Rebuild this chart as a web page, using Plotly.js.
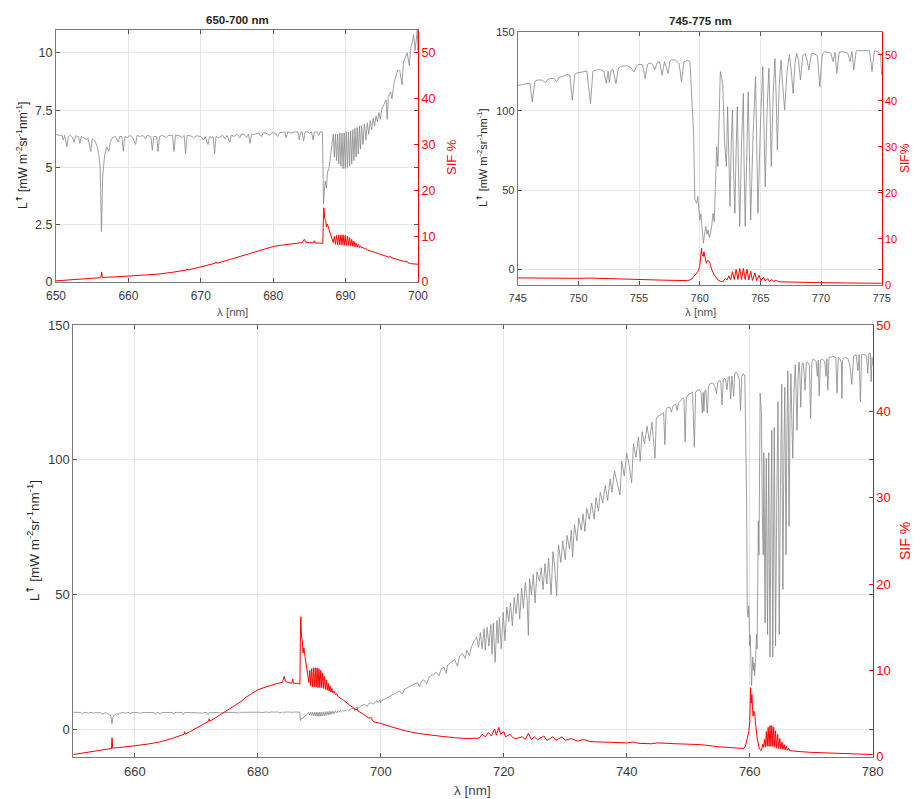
<!DOCTYPE html>
<html><head><meta charset="utf-8">
<script src="https://cdn.plot.ly/plotly-3.0.1.min.js"></script>
<style>html,body{margin:0;padding:0;background:#fff}#chart{width:914px;height:799px}</style>
</head><body><div id="chart"></div>
<script>
// Upwelling radiance L (mW m-2 sr-1 nm-1), [wavelength nm, value]
const radA = [[650,6.45],[650.4,6.4],[650.8,6.42],[651.0,6.2],[651.2,6.4],[651.5,5.9],[651.7,6.35],[652.0,6.4],[652.3,6.3],[652.5,6.1],[652.7,6.38],[653.1,6.35],[653.3,6.05],[653.5,6.35],[653.9,6.3],[654.2,6.2],[654.4,6.3],[654.8,5.7],[655.0,6.25],[655.4,6.15],[655.7,5.9],[655.9,5.6],[656.1,5.0],[656.28,2.2],[656.45,4.6],[656.7,5.5],[657.0,5.9],[657.3,5.7],[657.5,6.1],[657.8,6.3],[658.2,6.35],[658.6,6.1],[658.8,6.35],[659.1,6.35],[659.3,5.7],[659.5,6.35],[659.9,6.3],[660.2,6.4],[660.6,6.3],[661.0,6.0],[661.2,6.4],[661.6,6.35],[662.0,6.4],[662.4,6.25],[662.6,6.4],[663.1,6.35],[663.3,5.75],[663.5,6.35],[663.9,6.35],[664.1,5.7],[664.3,6.35],[664.7,6.4],[665.2,6.3],[665.5,6.4],[666.1,6.4],[666.3,5.7],[666.5,6.4],[667.0,6.4],[667.4,6.3],[667.7,6.4],[667.9,5.6],[668.1,6.4],[668.6,6.38],[669.0,6.3],[669.4,6.38],[670.0,6.35],[670.4,6.2],[670.6,6.35],[671.0,6.0],[671.2,6.35],[671.5,6.3],[671.7,6.35],[671.9,5.6],[672.1,6.35],[672.5,6.3],[673.0,6.4],[673.4,6.25],[673.6,6.4],[674.0,6.1],[674.2,6.4],[674.6,6.35],[675.0,6.45],[675.4,6.3],[675.6,6.45],[676.0,6.45],[676.3,6.3],[676.6,6.45],[676.8,6.05],[677.0,6.45],[677.5,6.45],[678.0,6.5],[678.4,6.35],[678.6,6.5],[679.0,6.5],[679.5,6.4],[679.8,6.52],[680.3,6.5],[680.6,6.35],[680.9,6.52],[681.3,6.55],[681.6,6.55],[681.8,6.3],[682.0,6.55],[682.5,6.5],[683.0,6.55],[683.4,6.55],[683.6,6.2],[683.8,6.55],[684.0,6.55],[684.2,6.15],[684.4,6.55],[684.8,6.55],[685.0,6.5],[685.3,6.55],[685.5,6.2],[685.7,6.55],[686.0,6.55],[686.3,6.4],[686.5,6.55],[686.8,6.55],[686.95,3.4],[687.05,3.9],[687.2,4.4],[687.35,4.1],[687.5,4.8],[687.7,4.95],[687.9,5.4],[688.1,6.0],[688.3,6.45],
[688.45,5.45],[688.6,6.45],[688.75,5.3],[688.9,6.45],[689.05,5.15],[689.2,6.5],[689.35,5.05],[689.5,6.5],[689.65,4.95],[689.8,6.5],[689.95,4.95],[690.1,6.55],[690.25,5.0],[690.4,6.55],[690.55,5.05],[690.7,6.6],[690.85,5.15],[691.0,6.65],[691.15,5.3],[691.3,6.7],[691.45,5.45],[691.6,6.75],[691.75,5.6],[691.9,6.8],[692.05,5.8],[692.2,6.85],[692.4,6.0],[692.6,6.9],[692.8,6.2],[693.0,6.95],[693.2,6.45],[693.4,7.05],[693.6,6.65],[693.8,7.15],[694.0,6.8],[694.2,7.25],[694.4,7.0],[694.6,7.4],[694.8,7.1],[695.0,7.55],[695.3,7.75],[695.6,7.95],[695.75,7.1],[695.9,8.1],[696.2,8.3],[696.4,8.0],[696.7,8.7],[697.0,9.1],[697.2,9.25],[697.5,9.2],[697.8,8.6],[698.0,9.6],[698.3,9.9],[698.5,10.0],[698.8,9.45],[699.0,10.2],[699.2,10.45],[699.4,10.8],[699.6,10.1],[699.8,10.9],[699.9,11.0],[700.0,10.1]];
const radB = [[700.2,10.9],[700.8,11.5],[701.5,12.4],[702.0,13.0],[702.5,13.6],[703.0,14.3],[703.5,13.3],[703.8,14.8],[704.5,15.8],[705.0,16.5],[705.5,17.0],[706.0,17.4],[706.3,16.0],[706.6,17.8],[707.0,18.5],[707.5,17.0],[707.8,19.4],[708.5,20.5],[709.0,21.3],[709.5,20.0],[709.8,22.4],[710.3,23.2],[710.6,21.0],[710.9,24.0],[711.5,25.2],[712.0,26.0],[712.5,23.5],[712.8,27.2],[713.3,28.2],[713.7,26.5],[714.0,29.5],[714.4,27.5],[714.8,31.0],[715.2,33.0],[715.6,34.3],[715.9,30.5],[716.2,36.0],[716.5,30.0],[716.8,37.5],[717.0,29.5],[717.3,38.0],[717.6,31.0],[717.9,39.0],[718.1,28.0],[718.3,39.5],[718.6,25.0],[718.9,40.5],[719.1,32.0],[719.3,41.5],[719.6,30.0],[719.9,43.5],[720.2,33.0],[720.5,45.5],[720.8,40.0],[721.1,47.0],[721.4,38.5],[721.7,49.0],[722.0,43.0],[722.3,50.5],[722.6,41.0],[722.9,52.5],[723.2,45.0],[723.5,54.5],[723.8,48.0],[724.0,35.0],[724.2,56.0],[724.5,50.0],[724.8,57.5],[725.1,47.0],[725.4,58.5],[725.8,55.0],[726.1,60.0],[726.4,52.0],[726.7,61.5],[727.0,54.0],[727.3,63.5],[727.7,50.0],[728.0,66.0],[728.3,60.0],[728.6,49.5],[728.9,68.5],[729.3,62.0],[729.6,70.0],[730.0,63.0],[730.3,72.0],[730.7,67.0],[731.0,74.0],[731.2,64.0],[731.5,76.0],[731.9,70.0],[732.2,78.5],[732.6,74.0],[732.9,80.0],[733.2,73.5],[733.5,82.0],[733.9,78.0],[734.3,84.0],[734.7,78.0],[735.0,86.0],[735.4,81.0],[735.7,88.0],[736.1,84.0],[736.5,90.5],[736.9,85.0],[737.3,93.0],[737.6,88.0],[738.0,96.0],[738.4,92.0],[738.9,87.0],[739.2,99.5],[739.6,94.0],[740.0,102.5],[740.4,98.0],[740.8,91.5],[741.1,106.0],[741.5,101.0],[741.9,108.5],[742.2,99.5],[742.5,110.5],[742.9,106.0],[743.3,112.5],[743.7,107.0],[744.1,114.0],[744.6,100.6],[744.8,115.0]];
const radC = [[745.0,116],[745.6,117],[746.0,117.5],[746.2,105.7],[746.4,118.5],[746.6,119.4],[747.0,119.5],[747.3,117.7],[747.5,120],[747.7,120.4],[748.0,120.5],[748.2,118.3],[748.4,121],[748.8,122],[749.1,123],[749.3,122.5],[749.5,106.7],[749.7,123],[749.9,124],[750.3,124.5],[750.7,125.2],[751.0,104.7],[751.2,125],[751.4,125.7],[751.8,126],[752.1,125],[752.3,117.3],[752.45,125],[752.55,118],[752.7,125.5],[752.85,126],[753.1,117.3],[753.3,127],[753.5,128.2],[754.0,128.5],[754.3,127.5],[754.6,124.6],[754.8,128.5],[755.0,129.4],[755.3,129],[755.5,120.4],[755.7,129.5],[755.9,130.3],[756.1,129.5],[756.3,126],[756.5,130.5],[756.7,131],[756.9,122.5],[757.1,131],[757.4,123.6],[757.55,131.5],[757.7,132.4],[758.0,132],[758.3,130],[758.5,118.3],[758.7,131],[759.0,132],[759.2,131],[759.35,110],[759.5,85],[759.6,44],[759.75,41.7],[759.85,46],[760.0,31],[760.1,35],[760.2,24.8],[760.3,16.4],[760.4,22],[760.5,27],[760.6,22],[760.7,24.8],[760.8,20],[760.9,22.7],[761.0,28],[761.1,35.3],[761.2,30],[761.3,52],[761.4,77.4],[761.5,64.8],[761.6,100],[761.7,124.8],[761.8,121],[761.9,117.4],[762.05,80],[762.2,64.8],[762.3,102.7],[762.4,70],[762.5,39.6],[762.6,80],[762.7,100.6],[762.8,60],[762.9,35.3],[763.0,75],[763.1,102.7],[763.2,60],[763.3,27],[763.45,80],[763.6,111],[763.65,70],[763.75,27],[763.9,80],[764.0,112],[764.1,70],[764.2,31],[764.4,85],[764.6,121.6],[764.7,80],[764.8,35.3],[765.0,90],[765.2,128],[765.3,90],[765.4,52],[765.55,100],[765.7,126.9],[765.8,100],[765.9,64.8],[766.05,110],[766.2,133],[766.3,110],[766.4,75.3],[766.55,115],[766.7,132],[766.85,115],[767.0,100.6],[767.2,125],[767.4,135.3],[767.55,125],[767.7,111],[767.85,130],[768.0,136.3],[768.15,132],[768.3,119.5],[768.5,135],[768.7,136],[768.85,132],[769.0,125.8],[769.2,136],[769.4,136.3],[769.7,135],[769.9,115.3],[770.1,136],[770.3,137.4],[770.8,136.5],[771.0,131],[771.15,137],[771.3,123.7],[771.5,137],[771.8,137.4],[772.2,136.5],[772.4,131],[772.55,137.5],[772.7,125.8],[772.9,138],[773.2,138],[773.5,138.4],[774.0,138],[774.2,124.8],[774.4,138],[774.7,137.4],[774.9,136],[775.0,122.7],[775.1,137],[775.5,138],[776.0,137.5],[776.3,135],[776.6,128],[776.9,138.5],[777.3,139],[777.6,133],[777.8,139],[778.0,121.6],[778.2,139],[778.6,139.2],[779.0,138.5],[779.2,132],[779.4,139.5],[779.6,139.5],[779.75,129],[779.9,138],[780.0,135]];

// SIF (% of radiance), [wavelength nm, value]
const sifA = [[650,0.25],[652,0.5],[654,0.7],[655.5,0.85],[656.2,0.95],[656.3,2.2],[656.4,1.0],[658,1.1],[660,1.25],[662,1.45],[664,1.7],[666,2.1],[668,2.6],[668.1,2.9],[668.2,2.6],[670,3.3],[672,4.1],[672.1,4.4],[672.2,4.1],[674,4.9],[676,5.8],[677.5,6.5],[678,6.85],[679,7.3],[680,7.75],[681,8.0],[682,8.25],[683,8.45],[684,8.6],[684.3,9.3],[684.5,8.7],[685,8.6],[685.5,8.5],[685.7,9.0],[685.8,8.5],[686.5,8.5],[686.85,8.4],[686.95,15.0],[687.0,16.2],[687.1,14.0],[687.25,13.4],[687.35,12.0],[687.5,12.6],[687.7,11.5],[687.9,10.5],[688.1,9.8],[688.3,8.6],[688.45,10.0],[688.6,8.2],[688.75,10.2],[688.9,8.1],[689.05,10.3],[689.2,8.1],[689.35,10.3],[689.5,8.1],[689.65,10.3],[689.8,8.0],[689.95,10.2],[690.1,8.0],[690.25,10.0],[690.4,8.0],[690.55,9.7],[690.7,7.9],[690.85,9.3],[691.0,7.8],[691.15,8.9],[691.3,7.7],[691.45,8.5],[691.6,7.6],[691.75,8.2],[691.9,7.5],[692.05,7.9],[692.2,7.4],[692.4,7.6],[692.6,7.2],[692.8,7.3],[693,7.0],[694,6.5],[695,5.9],[696,5.4],[696.2,5.6],[696.3,5.3],[697,5.0],[698,4.5],[698.5,4.5],[698.6,4.2],[699,4.0],[700,3.85]];
const sifB = [[702,3.4],[704,3.0],[706,2.7],[708,2.5],[710,2.35],[712,2.2],[714,2.1],[716,2.15],[716.5,2.6],[717,2.3],[717.5,2.8],[718,2.4],[718.5,3.2],[718.8,2.5],[719.2,3.4],[719.5,2.6],[720,2.9],[720.3,2.3],[721,2.6],[721.5,2.2],[722,2.1],[723,2.3],[723.5,2.0],[724,2.7],[724.5,2.0],[725,2.3],[725.5,1.95],[726.5,2.4],[727,1.9],[728,2.3],[728.5,1.9],[729.5,2.3],[730,1.9],[731,2.1],[732,1.8],[733,2.0],[734,1.75],[736,1.7],[738,1.65],[740,1.6],[741,1.7],[742,1.55],[744,1.5]];
const sifC = [[745,1.6],[748,1.5],[750,1.45],[751,1.5],[752,1.4],[755,1.15],[757,1.05],[759,0.95],[759.3,1.2],[759.5,1.8],[759.7,2.5],[759.85,2.9],[760.0,4.0],[760.1,6.5],[760.15,8.0],[760.2,6.5],[760.3,6.2],[760.35,7.2],[760.45,5.8],[760.55,4.7],[760.65,5.3],[760.8,5.1],[760.9,4.2],[761.0,3.3],[761.2,2.2],[761.35,1.7],[761.5,1.1],[761.7,0.8],[761.85,0.7],[762.0,1.0],[762.1,1.45],[762.25,1.1],[762.4,2.0],[762.55,1.1],[762.7,2.9],[762.85,1.2],[763.0,3.4],[763.15,1.2],[763.3,3.6],[763.45,1.2],[763.6,3.6],[763.75,1.2],[763.9,3.4],[764.05,1.1],[764.2,3.0],[764.35,1.0],[764.55,2.6],[764.7,0.95],[764.9,2.1],[765.05,0.9],[765.25,1.7],[765.4,0.85],[765.6,1.4],[765.75,0.8],[765.95,1.2],[766.1,0.75],[766.3,1.0],[766.5,0.7],[767,0.65],[768,0.6],[770,0.5],[772,0.45],[775,0.38],[778,0.3],[780,0.25]];

const yTicksTL = [0, 2.5, 5, 7.5, 10];
const yTickTextTL = ['0', '2.5', '5', '7.5', '10'];
const panelTitles = ['650-700 nm', '745-775 nm'];
const yTitleL = 'L<sup><span style="font-family:DejaVu Sans;font-weight:bold">↑</span></sup> [mW m<sup>-2</sup>sr<sup>-1</sup>nm<sup>-1</sup>]';

const rad = radA.concat(radB, radC);
const sif = sifA.concat(sifB, sifC);
const rx = rad.map(p => p[0]), ry = rad.map(p => p[1]);
const sx = sif.map(p => p[0]), sy = sif.map(p => p[1]);

const FONT = 'Liberation Sans, Arial, Helvetica, sans-serif';
const GRAY = 'rgb(135,135,135)';
const RED = '#ff0000';
const W = 914, H = 799;
const px = v => v / W, py = v => 1 - v / H;

function radTrace(xa, ya) { return {x: rx, y: ry, xaxis: xa, yaxis: ya, type: 'scatter', mode: 'lines', line: {color: GRAY, width: 0.8}, hoverinfo: 'skip'}; }
function sifTrace(xa, ya) { return {x: sx, y: sy, xaxis: xa, yaxis: ya, type: 'scatter', mode: 'lines', line: {color: RED, width: 1}, hoverinfo: 'skip'}; }

const data = [radTrace('x','y'), sifTrace('x','y2'), radTrace('x2','y3'), sifTrace('x2','y4'), radTrace('x3','y5'), sifTrace('x3','y6')];

function xAx(dom, anchor, range, dtick, fs) {
  return {domain: dom, anchor: anchor, range: range, dtick: dtick, showgrid: true, gridcolor: '#e6e6e6', zeroline: false,
    showline: true, linecolor: '#7a7a7a', linewidth: 1, mirror: 'ticks', ticks: 'inside', ticklen: 4, tickcolor: '#555',
    ticklabelstandoff: 3,
    tickfont: {family: FONT, size: fs, color: '#3a3a3a'}, automargin: false, fixedrange: true};
}
function yAx(dom, anchor, range, extra, fs) {
  return Object.assign({domain: dom, anchor: anchor, range: range, showgrid: true, gridcolor: '#e6e6e6', zeroline: false,
    showline: true, linecolor: '#7a7a7a', linewidth: 1, mirror: 'ticks', ticks: 'inside', ticklen: 4, tickcolor: '#555',
    tickfont: {family: FONT, size: fs, color: '#3a3a3a'}, automargin: false, fixedrange: true}, extra);
}
function y2Ax(over, anchor, range, fs) {
  return {overlaying: over, anchor: anchor, side: 'right', range: range, dtick: 10, showgrid: false, zeroline: false,
    showline: true, linecolor: RED, linewidth: 1, ticks: 'inside', ticklen: 4, tickcolor: RED,
    tickfont: {family: FONT, size: fs, color: RED}, automargin: false, fixedrange: true};
}

const d1x = [px(56), px(418)], d1y = [py(282), py(30)];
const d2x = [px(517.7), px(881.7)], d2y = [py(285), py(31.7)];
const d3x = [px(73.3), px(872.7)], d3y = [py(756.7), py(325)];

const ann = (text, x, y, size, opts) => Object.assign({text: text, x: px(x), y: py(y), xref: 'paper', yref: 'paper', showarrow: false,
  xanchor: 'center', yanchor: 'middle', font: {family: FONT, size: size, color: '#262626'}}, opts || {});

const layout = {
  width: W, height: H, margin: {l: 0, r: 0, t: 0, b: 0}, paper_bgcolor: '#fff', plot_bgcolor: '#fff', showlegend: false,
  xaxis: xAx(d1x, 'y', [650, 700], 10, 12),
  yaxis: yAx(d1y, 'x', [0, 11], {tickvals: yTicksTL, ticktext: yTickTextTL}, 12.5),
  yaxis2: y2Ax('y', 'x', [0, 55], 12.5),
  xaxis2: xAx(d2x, 'y3', [745, 775], 5, 11),
  yaxis3: yAx(d2y, 'x2', [-10, 150], {dtick: 50}, 11),
  yaxis4: y2Ax('y3', 'x2', [0, 55], 11),
  xaxis3: xAx(d3x, 'y5', [650, 780], 20, 13),
  yaxis5: yAx(d3y, 'x3', [-10, 150], {dtick: 50}, 13),
  yaxis6: y2Ax('y5', 'x3', [0, 50], 13),
  annotations: [
    ann('<b>' + panelTitles[0] + '</b>', 237, 20, 11.5),
    ann('<b>' + panelTitles[1] + '</b>', 700, 21, 11.5),
    ann(yTitleL, 22, 156, 12, {textangle: -90}),
    ann('SIF %', 451, 157, 13, {textangle: -90, font: {family: FONT, size: 13, color: RED}}),
    ann('λ [nm]', 233, 312, 11.5, {font: {family: FONT, size: 11.5, color: '#555'}}),
    ann(yTitleL, 482, 158, 11, {textangle: -90}),
    ann('SIF%', 905, 158, 12, {textangle: -90, font: {family: FONT, size: 12, color: RED}}),
    ann('λ [nm]', 700, 312, 11.5, {font: {family: FONT, size: 11.5, color: '#555'}}),
    ann(yTitleL, 33, 541, 13.5, {textangle: -90}),
    ann('SIF %', 905, 541, 14, {textangle: -90, font: {family: FONT, size: 14, color: RED}}),
    ann('λ [nm]', 473, 790, 13.5, {font: {family: FONT, size: 13.5, color: '#444'}})
  ]
};

Plotly.newPlot('chart', data, layout, {staticPlot: true, displayModeBar: false});
</script>
</body></html>
